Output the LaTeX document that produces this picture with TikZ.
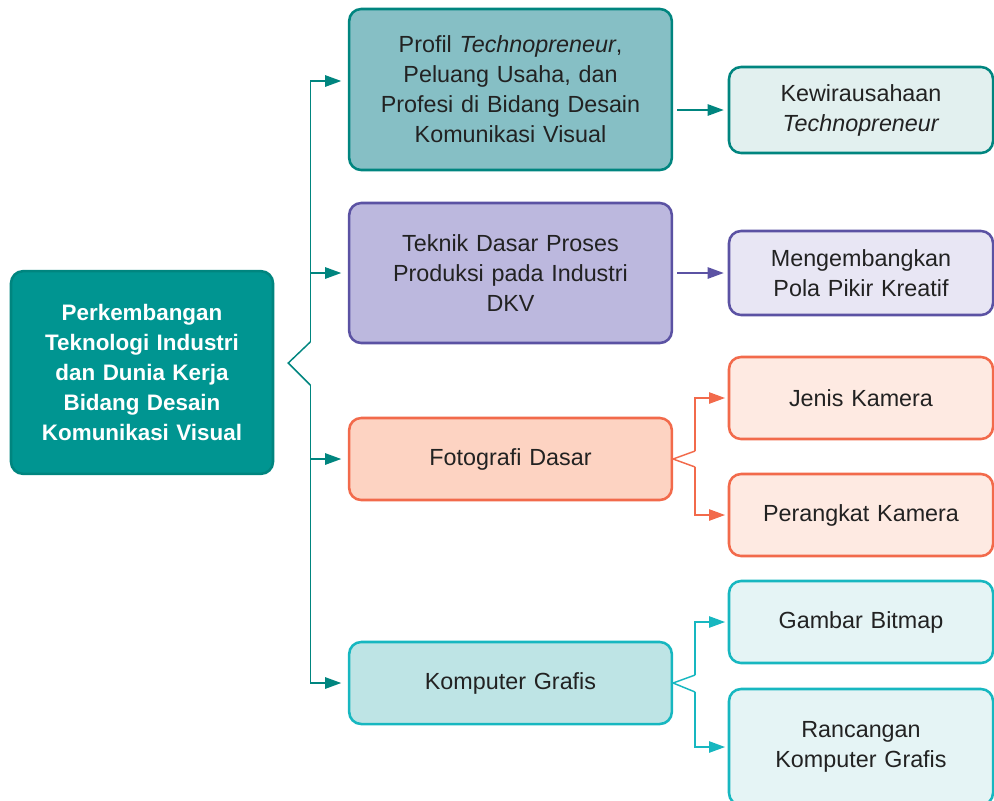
\documentclass[tikz,border=0pt]{standalone}
\usepackage{fontspec}
\setmainfont{Liberation Sans}
\usetikzlibrary{arrows.meta,calc}

\definecolor{tealdk}{HTML}{00857F}
\definecolor{tealmain}{HTML}{009591}
\definecolor{tealfill}{HTML}{86BFC5}
\definecolor{teallt}{HTML}{E2F0EF}
\definecolor{purp}{HTML}{5B52A3}
\definecolor{purpfill}{HTML}{BCB8DE}
\definecolor{purplt}{HTML}{E8E6F4}
\definecolor{orng}{HTML}{F26A4B}
\definecolor{orngfill}{HTML}{FDD3C2}
\definecolor{ornglt}{HTML}{FEEAE2}
\definecolor{cyn}{HTML}{17B7C0}
\definecolor{cynfill}{HTML}{BEE4E5}
\definecolor{cynlt}{HTML}{E5F4F5}
\definecolor{txt}{HTML}{222222}

\tikzset{
  box/.style={draw, line width=1.9pt, rounded corners=9pt, align=center,
    text=txt, inner sep=0pt,
    font=\fontsize{17.5}{22.5}\selectfont},
  midbox/.style={box, minimum width=242pt, text width=236pt},
  sidebox/.style={box, minimum width=198pt, text width=194pt},
  link/.style={line width=1.1pt, -{Triangle[length=12pt,width=8.5pt]}},
  plain/.style={line width=1.1pt},
}

\begin{document}
\begin{tikzpicture}[x=0.75pt,y=-0.75pt]
\useasboundingbox (0,0) rectangle (994,800);

% root
\node[box, draw=tealdk, fill=tealmain, text=white, minimum width=196.5pt,
      minimum height=152pt, text width=192pt,
      font=\fontsize{16.8}{22.5}\selectfont\bfseries] (root) at (142,372.5)
  {Perkembangan\\Teknologi Industri\\dan Dunia Kerja\\Bidang Desain\\Komunikasi Visual};

% middle column
\node[midbox, draw=tealdk, fill=tealfill, minimum height=120.75pt] (b1) at (510.5,89.5)
  {Profil \textit{Technopreneur},\\Peluang Usaha, dan\\Profesi di Bidang Desain\\Komunikasi Visual};
\node[midbox, draw=purp, fill=purpfill, minimum height=105pt] (b2) at (510.5,273)
  {Teknik Dasar Proses\\Produksi pada Industri\\DKV};
\node[midbox, draw=orng, fill=orngfill, minimum height=61.5pt] (b3) at (510.5,459)
  {Fotografi Dasar};
\node[midbox, draw=cyn, fill=cynfill, minimum height=61.5pt] (b4) at (510.5,683)
  {Komputer Grafis};

% right column
\node[sidebox, draw=tealdk, fill=teallt, minimum height=64.5pt] (r1) at (861,110)
  {Kewirausahaan\\\textit{Technopreneur}};
\node[sidebox, draw=purp, fill=purplt, minimum height=63pt] (r2) at (861,273)
  {Mengembangkan\\Pola Pikir Kreatif};
\node[sidebox, draw=orng, fill=ornglt, minimum height=61.5pt] (r3) at (861,398)
  {Jenis Kamera};
\node[sidebox, draw=orng, fill=ornglt, minimum height=61.5pt] (r4) at (861,515)
  {Perangkat Kamera};
\node[sidebox, draw=cyn, fill=cynlt, minimum height=61.5pt] (r5) at (861,622)
  {Gambar Bitmap};
\node[sidebox, draw=cyn, fill=cynlt, minimum height=87pt] (r6) at (861,747)
  {Rancangan\\Komputer Grafis};

% bracket from the root to the middle column
\coordinate (tip) at ($(root.east)+(14,-9.5)$);
\coordinate (up) at ($(tip)+(22,-21)$);
\coordinate (dn) at ($(tip)+(22,22)$);
\draw[plain, tealdk] (up) -- (tip) -- (dn);
\draw[link, tealdk, shorten >=5pt] (up) |- ($(b1.west)+(0,-8.5)$);
\draw[link, tealdk, shorten >=5pt] (up) |- (b2.west);
\draw[link, tealdk, shorten >=5pt] (dn) |- (b3.west);
\draw[link, tealdk, shorten >=5pt] (dn) |- (b4.west);

% single links
\draw[link, tealdk, shorten <=3pt, shorten >=3pt] (b1.east |- r1.west) -- (r1.west);
\draw[link, purp, shorten <=3pt, shorten >=3pt] (b2.east |- r2.west) -- (r2.west);

% forks
\coordinate (f3u) at ($(b3.east)+(22,-8)$);
\coordinate (f3d) at ($(b3.east)+(22,8)$);
\draw[plain, orng] (f3u) -- (b3.east) -- (f3d);
\draw[link, orng, shorten >=2pt] (f3u) |- (r3.west);
\draw[link, orng, shorten >=2pt] (f3d) |- (r4.west);

\coordinate (f4u) at ($(b4.east)+(22,-8)$);
\coordinate (f4d) at ($(b4.east)+(22,9)$);
\draw[plain, cyn] (f4u) -- (b4.east) -- (f4d);
\draw[link, cyn, shorten >=2pt] (f4u) |- (r5.west);
\draw[link, cyn, shorten >=2pt] (f4d) |- (r6.west);
\end{tikzpicture}
\end{document}
